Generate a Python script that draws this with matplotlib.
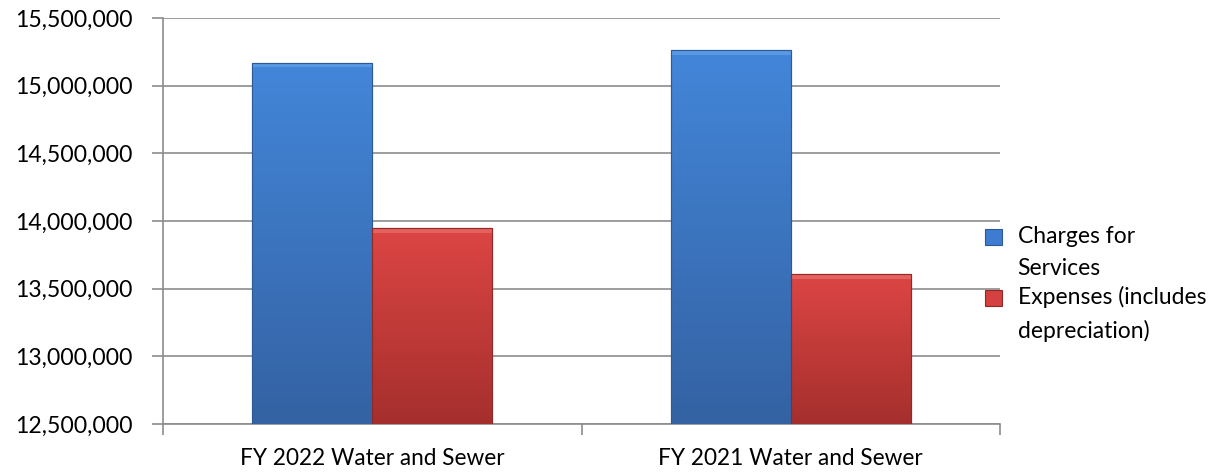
import matplotlib.pyplot as plt
import numpy as np
from matplotlib.ticker import FuncFormatter
from matplotlib.patches import Rectangle
from matplotlib.legend_handler import HandlerPatch

categories = ['FY 2022 Water and Sewer', 'FY 2021 Water and Sewer']
charges = [15170000, 15260000]
expenses = [13950000, 13610000]
series_names = ['Charges for\nServices', 'Expenses (includes\ndepreciation)']

plt.rcParams['font.family'] = ['Lato', 'DejaVu Sans']

fig = plt.figure(figsize=(12.32, 4.72), dpi=100)
ax = fig.add_axes([163 / 1232, 1 - 424 / 472, (1000 - 163) / 1232, (424 - 18) / 472])

x = np.arange(len(categories))
w = 0.287
base = 12500000

b1 = ax.bar(x - w / 2, charges, w, color='#3d7cd0', edgecolor='#2d5a96', linewidth=0.8, zorder=3)
b2 = ax.bar(x + w / 2, expenses, w, color='#d44140', edgecolor='#8e2a28', linewidth=0.8, zorder=3)

# vertical shading + light bevel on top of each bar
def shade(bars, top, bottom, light):
    grad = np.linspace(0, 1, 256).reshape(-1, 1)
    c0 = np.array(plt.matplotlib.colors.to_rgb(top))
    c1 = np.array(plt.matplotlib.colors.to_rgb(bottom))
    img = c0 + (c1 - c0) * grad[:, :, None] * np.ones((1, 2, 1))
    for b in bars:
        x0 = b.get_x()
        x1, y1 = x0 + b.get_width(), b.get_height()
        im = ax.imshow(img, extent=[x0, x1, base, y1], aspect='auto', origin='upper', zorder=3.5)
        im.set_clip_path(b)
        ax.add_patch(Rectangle((x0, y1 - 35000), b.get_width(), 35000, color=light,
                               linewidth=0, alpha=0.6, zorder=3.8))
        ax.add_patch(Rectangle((x0, base), b.get_width(), y1 - base, fill=False,
                               edgecolor=b.get_edgecolor(), linewidth=0.8, zorder=4))

shade(b1, '#4386d9', '#3462a3', '#6aa8ec')
shade(b2, '#dc4644', '#a52f2d', '#ee7470')

ax.set_xlim(-0.5, 1.5)
ax.set_ylim(base, 15500000)
ax.set_yticks(np.arange(base, 15500001, 500000))
ax.yaxis.set_major_formatter(FuncFormatter(lambda v, p: f'{int(v):,}'))
ax.yaxis.grid(True, color='#8c8c8c', linewidth=1.2, zorder=0)
ax.set_axisbelow(True)

ax.set_xticks([-0.5, 0.5, 1.5])
ax.set_xticklabels([])
ax.set_xticks(x, minor=True)
ax.set_xticklabels(categories, minor=True, fontsize=16.3)
ax.tick_params(axis='x', which='minor', length=0, pad=17)
ax.tick_params(axis='x', which='major', length=8, color='#8c8c8c', width=1.2)
ax.tick_params(axis='y', length=8, color='#8c8c8c', width=1.2, labelsize=16.6, pad=14)

for s in ['top', 'right']:
    ax.spines[s].set_visible(False)
for s in ['left', 'bottom']:
    ax.spines[s].set_color('#8c8c8c')
    ax.spines[s].set_linewidth(1.2)

# legend squares sit beside the first line of each label
def top_square(legend, orig_handle, xdescent, ydescent, width, height, fontsize):
    return Rectangle((-xdescent, -ydescent + 11.5), width, height)

leg = ax.legend([b1[0], b2[0]], series_names, loc='center left', bbox_to_anchor=(0.958, 0.345),
                frameon=False, fontsize=16.5, handlelength=0.7, handleheight=0.7,
                handletextpad=0.7, labelspacing=0.3,
                handler_map={Rectangle: HandlerPatch(patch_func=top_square)})
for t in leg.get_texts():
    t.set_linespacing(1.65)

fig.savefig('out.png', dpi=100)
